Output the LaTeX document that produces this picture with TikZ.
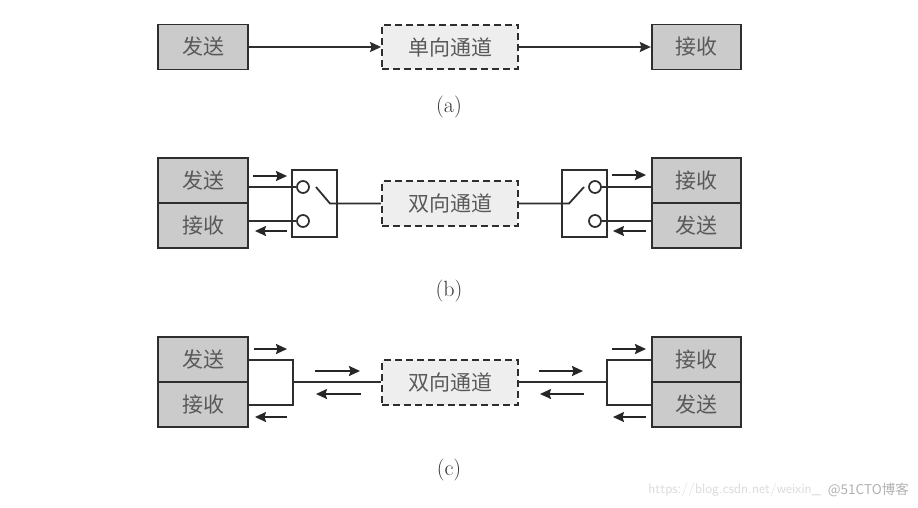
\documentclass[tikz,border=0pt]{standalone}
\usepackage{fontspec}
\newfontfamily\cjk{Noto Sans CJK SC}
\usetikzlibrary{arrows.meta}
\definecolor{boxgray}{HTML}{CBCBCB}
\definecolor{changray}{HTML}{EEEEEE}
\definecolor{inkc}{HTML}{2E2E2E}
\definecolor{txtc}{HTML}{595959}
\tikzset{
  x=1pt,y=-1pt,
  bigtip/.tip={Stealth[length=11pt,width=10pt,inset=1.5pt]},
  unitbox/.style={draw=inkc,line width=1.8pt,fill=boxgray,minimum width=89.5pt,minimum height=45pt,inner sep=0pt,text=txtc,font=\cjk\fontsize{21}{21}\selectfont},
  chanbox/.style={draw=inkc,line width=1.8pt,dash pattern=on 7pt off 4pt,fill=changray,minimum width=136pt,minimum height=44.5pt,inner sep=0pt,text=txtc,font=\cjk\fontsize{21}{21}\selectfont},
  switchbox/.style={draw=inkc,line width=1.8pt,fill=white,minimum width=44.5pt,minimum height=67pt,inner sep=0pt},
  contact/.style={circle,draw=inkc,line width=1.7pt,fill=white,minimum size=12pt,inner sep=0pt},
  wire/.style={draw=inkc,line width=1.8pt},
  sig/.style={draw=black!85,line width=1.8pt,-bigtip},
  caplabel/.style={text=black!80,font=\fontsize{22}{22}\selectfont,inner sep=0pt},
  mark1/.style={text=black!14,font=\sffamily\fontsize{14}{14}\selectfont,inner sep=0pt,anchor=east},
  mark2/.style={text=black!30,font=\cjk\fontsize{13.5}{13.5}\selectfont,inner sep=0pt,anchor=east},
}
\begin{document}
\begin{tikzpicture}
\useasboundingbox (0,0) rectangle (918,507);
\fill[white] (0,0) rectangle (918,507);
% (a)
\node[unitbox] (as) at (203,47) {发送};
\node[chanbox] (ac) at (450,47) {单向通道};
\node[unitbox] (ar) at (696.5,47) {接收};
\draw[wire,-bigtip] (as.east) -- (ac.west);
\draw[wire,-bigtip] (ac.east) -- (ar.west);
\node[caplabel] (capa) at (449,107) {(a)};
% (b)
\node[unitbox] (bls) at (203,180.5) {发送};
\node[unitbox] (blr) at (203,225.5) {接收};
\node[unitbox] (brr) at (696.5,180.5) {接收};
\node[unitbox] (brs) at (696.5,225.5) {发送};
\node[chanbox] (bc) at (450,203.5) {双向通道};
\node[switchbox] (bsl) at (314.5,203.5) {};
\node[switchbox] (bsr) at (584.5,203.5) {};
\coordinate (blp) at (330,203.5);
\coordinate (bla) at (316,187);
\coordinate (brp) at (569,203.5);
\coordinate (bra) at (584,187);
\node[contact] (bl1) at (303,187) {};
\node[contact] (bl2) at (303,221) {};
\node[contact] (br1) at (595,187) {};
\node[contact] (br2) at (595,221) {};
\draw[wire] (bl1.west) -- (bl1.west -| bls.east);
\draw[wire] (bl2.west) -- (bl2.west -| blr.east);
\draw[wire] (br1.east) -- (br1.east -| brr.west);
\draw[wire] (br2.east) -- (br2.east -| brs.west);
\draw[wire] (bla) -- (blp) -- (bc.west);
\draw[wire] (bra) -- (brp) -- (bc.east);
\coordinate (b1a) at (253,176); \coordinate (b1b) at (287,176);
\coordinate (b2a) at (287,231); \coordinate (b2b) at (255,231);
\coordinate (b3a) at (612,175); \coordinate (b3b) at (646,175);
\coordinate (b4a) at (646,231); \coordinate (b4b) at (613,231);
\draw[sig] (b1a) -- (b1b);
\draw[sig] (b2a) -- (b2b);
\draw[sig] (b3a) -- (b3b);
\draw[sig] (b4a) -- (b4b);
\node[caplabel] (capb) at (449,291) {(b)};
% (c)
\node[unitbox] (cls) at (203,359.5) {发送};
\node[unitbox] (clr) at (203,404.5) {接收};
\node[unitbox] (crr) at (696.5,359.5) {接收};
\node[unitbox] (crs) at (696.5,404.5) {发送};
\node[chanbox] (cc) at (450,382.5) {双向通道};
\coordinate (cjl) at (293,382);
\coordinate (cjr) at (607,382);
\draw[wire] (cc.west |- cjl) -- (cjl);
\draw[wire] (cc.east |- cjr) -- (cjr);
\draw[wire] (cls.east |- 0,360) -| (cjl) |- (clr.east |- 0,405);
\draw[wire] (crr.west |- 0,360) -| (cjr) |- (crs.west |- 0,405);
\coordinate (c1a) at (254,349); \coordinate (c1b) at (287,349);
\coordinate (c2a) at (287,417); \coordinate (c2b) at (255,417);
\coordinate (c3a) at (315,371); \coordinate (c3b) at (360,371);
\coordinate (c4a) at (361,394); \coordinate (c4b) at (316,394);
\coordinate (c5a) at (539,371); \coordinate (c5b) at (583,371);
\coordinate (c6a) at (584,394); \coordinate (c6b) at (540,394);
\coordinate (c7a) at (612,349); \coordinate (c7b) at (646,349);
\coordinate (c8a) at (646,417); \coordinate (c8b) at (613,417);
\draw[sig] (c1a) -- (c1b);
\draw[sig] (c2a) -- (c2b);
\draw[sig] (c3a) -- (c3b);
\draw[sig] (c4a) -- (c4b);
\draw[sig] (c5a) -- (c5b);
\draw[sig] (c6a) -- (c6b);
\draw[sig] (c7a) -- (c7b);
\draw[sig] (c8a) -- (c8b);
\node[caplabel] (capc) at (449,470) {(c)};
% watermark
\node[mark1] (wm1) at (821,490) {https://blog.csdn.net/weixin\_};
\node[mark2] (wm2) at (909,490) {@51CTO博客};
\end{tikzpicture}
\end{document}
